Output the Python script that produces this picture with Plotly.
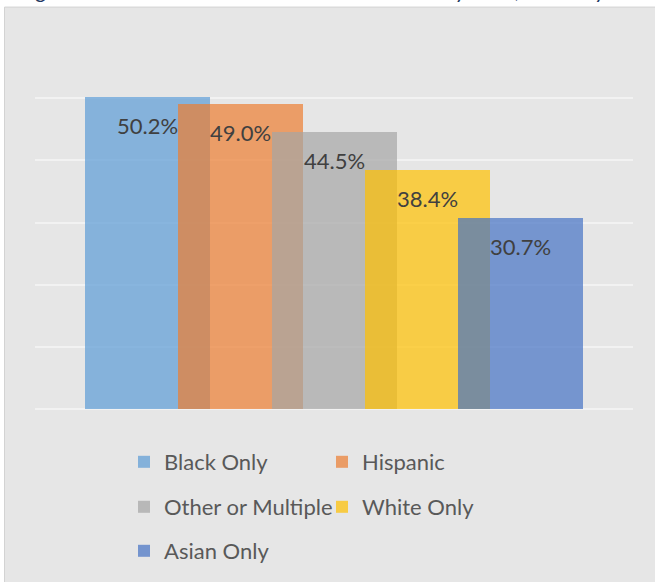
import plotly.graph_objects as go

# Share of households by race (percent)
categories = ["Black Only", "Hispanic", "Other or Multiple", "White Only", "Asian Only"]
values = [50.2, 49.0, 44.5, 38.4, 30.7]
colors = ["#5B9BD5", "#ED7D31", "#A5A5A5", "#FFC000", "#4472C4"]
legend_ids = ["legend", "legend", "legend2", "legend2", "legend3"]

title_text = "Figure 3. Renter Household Cost Burden Rates by Race, Ethnicity"

FONT = "Lato"
W, H = 655, 582
L, R, T, B = 35, 22, 36, 172
plot_w = W - L - R
plot_h = H - T - B

step_px = 93.3
bar_px = 125
x_left = -(147.5 - L) / step_px
x_right = x_left + plot_w / step_px
bar_w = bar_px / step_px


def px_x(p):
    return (p - L) / plot_w


def px_y(p):
    return (H - B - p) / plot_h


fig = go.Figure()
for i, (cat, v, c, lg) in enumerate(zip(categories, values, colors, legend_ids)):
    fig.add_trace(go.Bar(
        x=[i], y=[v], width=bar_w, name=cat, marker=dict(color=c, line=dict(width=0)),
        opacity=0.7, legend=lg, hoverinfo="skip",
    ))
    fig.add_annotation(
        x=i, y=v, xref="x", yref="y", text=f"{v:.1f}%", showarrow=False,
        xanchor="center", yanchor="top", yshift=-13,
        font=dict(family=FONT, size=22, color="#404040"),
    )

# chart box background
fig.add_shape(type="rect", xref="paper", yref="paper",
              x0=px_x(4.5), x1=px_x(W + 5), y0=px_y(H + 5), y1=px_y(7),
              fillcolor="#E6E6E6", line=dict(color="#D3D3D3", width=1), layer="below")

# figure caption running off the top edge of the page
fig.add_annotation(
    x=px_x(18), y=px_y(5), xref="paper", yref="paper", text=title_text,
    showarrow=False, xanchor="left", yanchor="bottom",
    font=dict(family=FONT, size=22, color="#1F3864", style="italic"),
)

legend_common = dict(
    orientation="h", xanchor="left", yanchor="middle", x=px_x(124),
    font=dict(family=FONT, size=22, color="#595959"),
    bgcolor="rgba(0,0,0,0)", borderwidth=0,
    entrywidth=153, entrywidthmode="pixels", traceorder="normal",
)

fig.update_layout(
    width=W, height=H,
    margin=dict(l=L, r=R, t=T, b=B),
    paper_bgcolor="white", plot_bgcolor="rgba(0,0,0,0)",
    barmode="overlay", bargap=0,
    showlegend=True,
    legend=dict(legend_common, y=px_y(462)),
    legend2=dict(legend_common, y=px_y(507)),
    legend3=dict(legend_common, y=px_y(551)),
    xaxis=dict(range=[x_left, x_right], showticklabels=False, showgrid=False,
               zeroline=False, showline=False, ticks=""),
    yaxis=dict(range=[0, 60], dtick=10, showticklabels=False, showgrid=True,
               gridcolor="#F2F2F2", gridwidth=1.5, zeroline=True,
               zerolinecolor="#F2F2F2", zerolinewidth=1.5, showline=False, ticks=""),
)

fig.write_html("out.html")
